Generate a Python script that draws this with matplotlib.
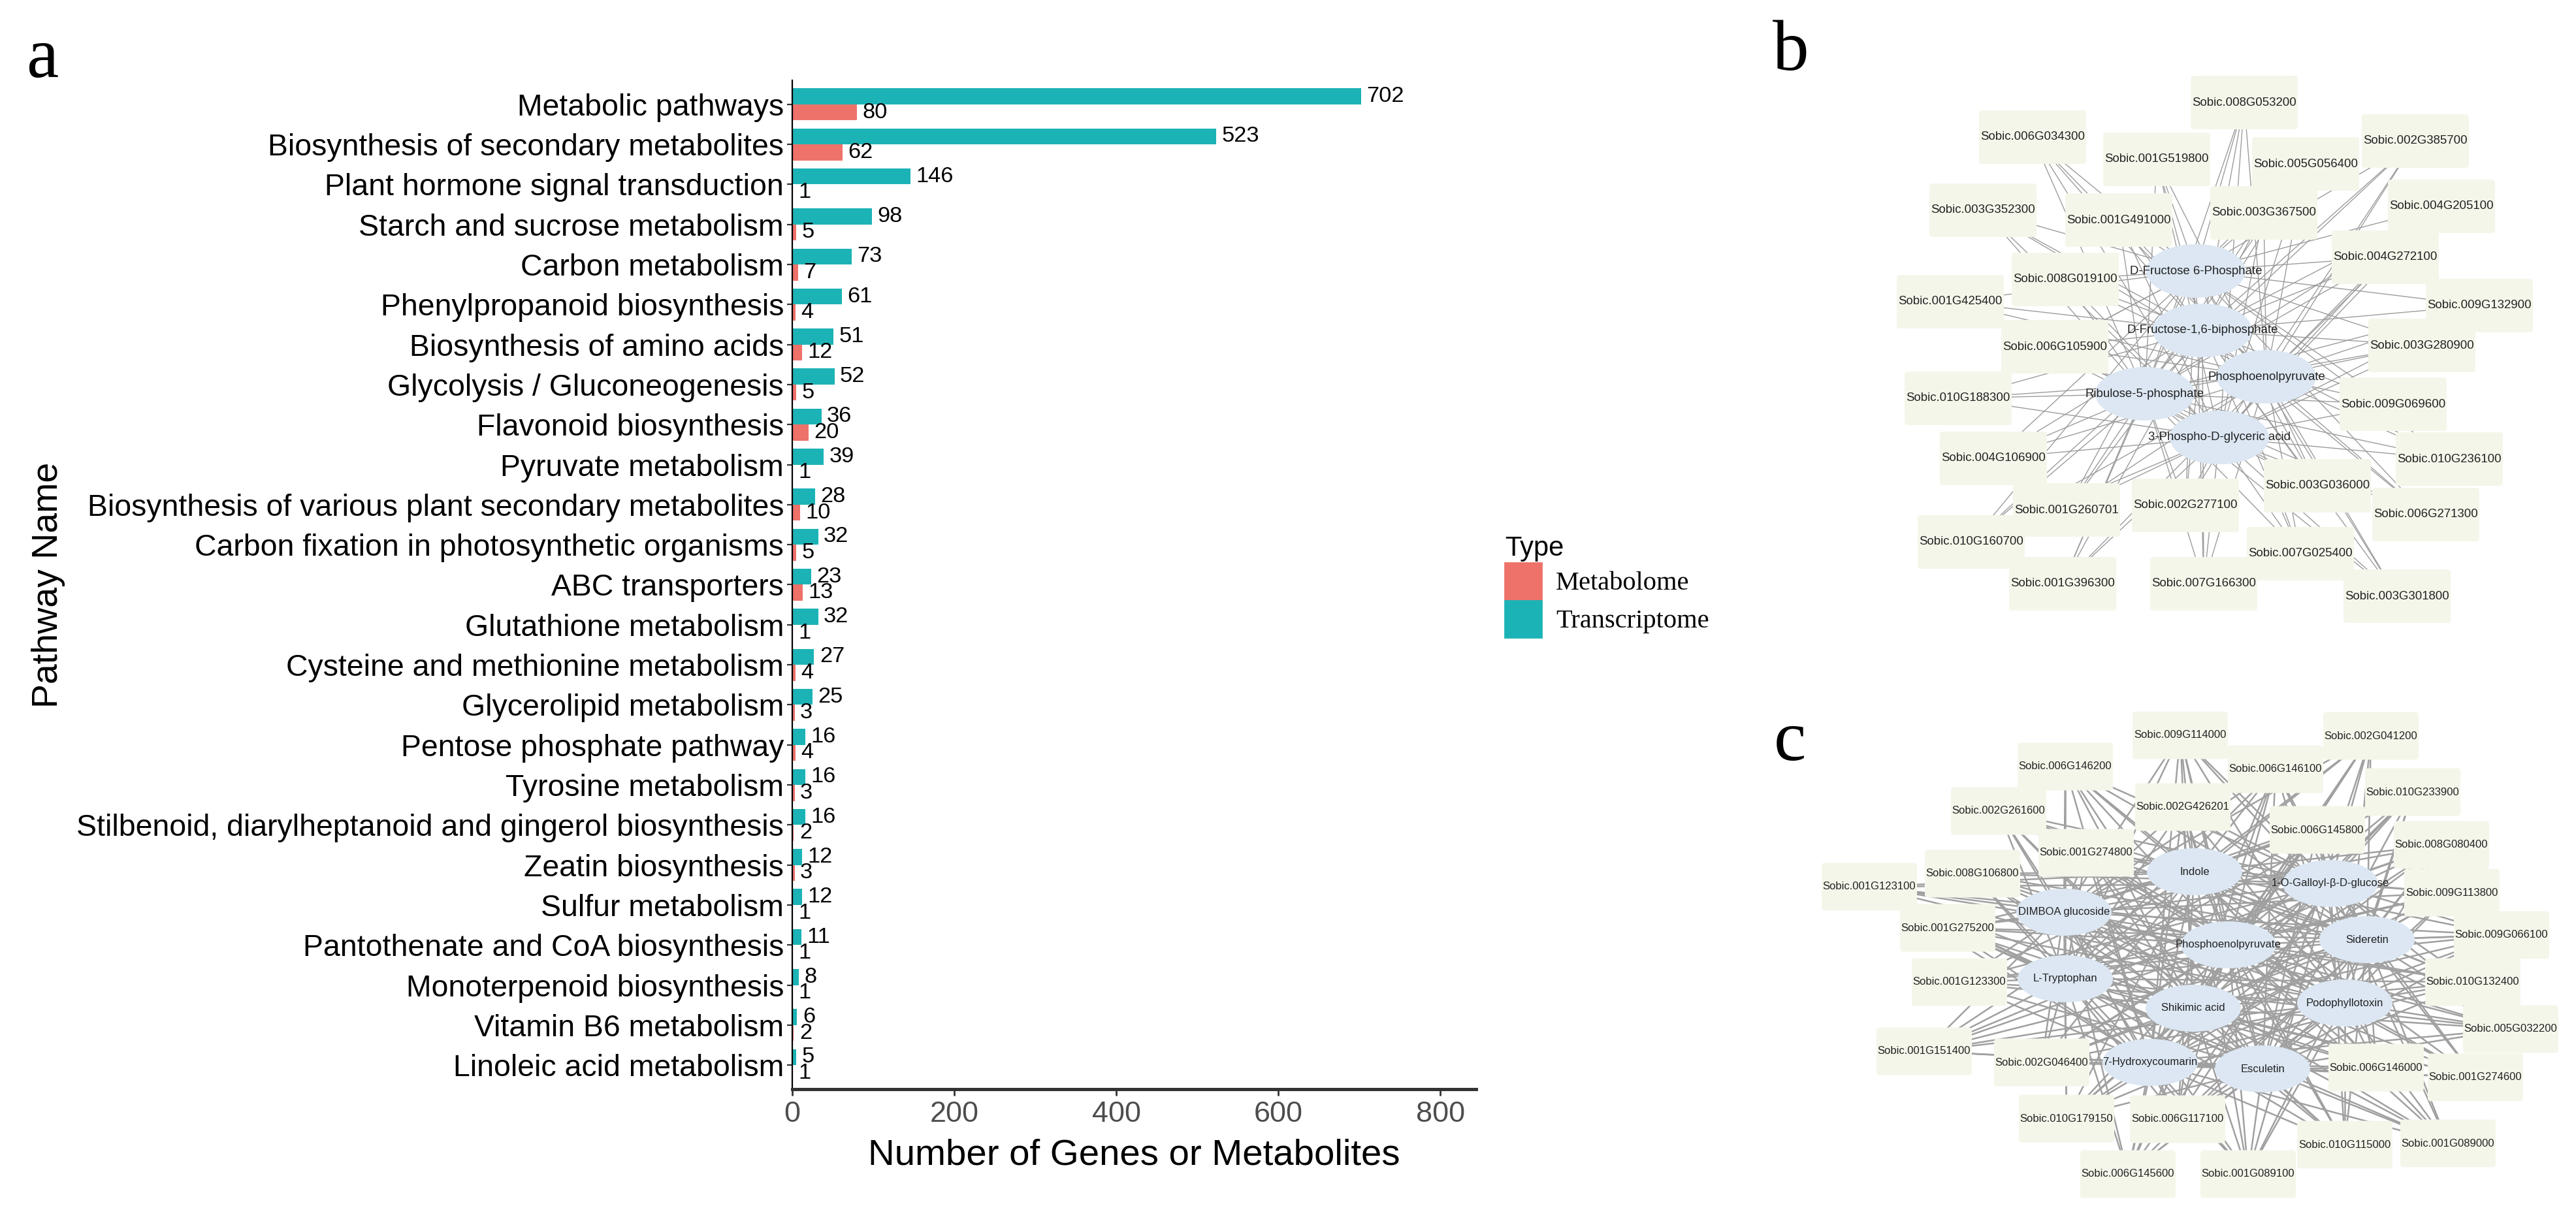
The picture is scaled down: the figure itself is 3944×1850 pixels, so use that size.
import matplotlib
matplotlib.use('Agg')
import matplotlib.pyplot as plt
import numpy as np
from matplotlib.patches import Ellipse, FancyBboxPatch, Patch

# PANEL A DATA
pathways = ['Metabolic pathways', 'Biosynthesis of secondary metabolites',
            'Plant hormone signal transduction', 'Starch and sucrose metabolism',
            'Carbon metabolism', 'Phenylpropanoid biosynthesis',
            'Biosynthesis of amino acids', 'Glycolysis / Gluconeogenesis',
            'Flavonoid biosynthesis', 'Pyruvate metabolism',
            'Biosynthesis of various plant secondary metabolites',
            'Carbon fixation in photosynthetic organisms', 'ABC transporters',
            'Glutathione metabolism', 'Cysteine and methionine metabolism',
            'Glycerolipid metabolism', 'Pentose phosphate pathway',
            'Tyrosine metabolism',
            'Stilbenoid, diarylheptanoid and gingerol biosynthesis',
            'Zeatin biosynthesis', 'Sulfur metabolism',
            'Pantothenate and CoA biosynthesis', 'Monoterpenoid biosynthesis',
            'Vitamin B6 metabolism', 'Linoleic acid metabolism']
transcriptome = [702, 523, 146, 98, 73, 61, 51, 52, 36, 39, 28, 32, 23, 32, 27,
                 25, 16, 16, 16, 12, 12, 11, 8, 6, 5]
metabolome = [80, 62, 1, 5, 7, 4, 12, 5, 20, 1, 10, 5, 13, 1, 4, 3, 4, 3, 2, 3,
              1, 1, 1, 2, 1]
x_ticks = [0, 200, 400, 600, 800]

# PANEL B NETWORK
b_metabolites = ['D-Fructose 6-Phosphate', 'D-Fructose-1,6-biphosphate',
                 'Phosphoenolpyruvate', 'Ribulose-5-phosphate',
                 '3-Phospho-D-glyceric acid']
b_genes = ['Sobic.008G053200', 'Sobic.006G034300', 'Sobic.001G519800',
           'Sobic.005G056400', 'Sobic.002G385700', 'Sobic.003G352300',
           'Sobic.001G491000', 'Sobic.003G367500', 'Sobic.004G205100',
           'Sobic.004G272100', 'Sobic.008G019100', 'Sobic.001G425400',
           'Sobic.009G132900', 'Sobic.006G105900', 'Sobic.003G280900',
           'Sobic.010G188300', 'Sobic.009G069600', 'Sobic.004G106900',
           'Sobic.010G236100', 'Sobic.003G036000', 'Sobic.001G260701',
           'Sobic.002G277100', 'Sobic.006G271300', 'Sobic.010G160700',
           'Sobic.007G025400', 'Sobic.001G396300', 'Sobic.007G166300',
           'Sobic.003G301800']

# PANEL C NETWORK
c_metabolites = ['Indole', '1-O-Galloyl-\u03b2-D-glucose', 'DIMBOA glucoside',
                 'Phosphoenolpyruvate', 'Sideretin', 'L-Tryptophan',
                 'Shikimic acid', 'Podophyllotoxin', '7-Hydroxycoumarin',
                 'Esculetin']
c_genes = ['Sobic.009G114000', 'Sobic.002G041200', 'Sobic.006G146200',
           'Sobic.006G146100', 'Sobic.010G233900', 'Sobic.002G261600',
           'Sobic.002G426201', 'Sobic.006G145800', 'Sobic.008G080400',
           'Sobic.001G274800', 'Sobic.008G106800', 'Sobic.001G123100',
           'Sobic.009G113800', 'Sobic.001G275200', 'Sobic.009G066100',
           'Sobic.001G123300', 'Sobic.010G132400', 'Sobic.005G032200',
           'Sobic.001G151400', 'Sobic.002G046400', 'Sobic.006G146000',
           'Sobic.001G274600', 'Sobic.010G179150', 'Sobic.006G117100',
           'Sobic.010G115000', 'Sobic.001G089000', 'Sobic.006G145600',
           'Sobic.001G089100']

# layout of the networks (pixel positions of node centres)
b_met_pos = [(3362, 415), (3372, 506), (3470, 577), (3284, 603), (3398, 670)]
b_gene_pos = [(3436, 157), (3112, 210), (3302, 244), (3530, 251), (3698, 216),
              (3036, 322), (3244, 337), (3466, 326), (3738, 316), (3652, 394),
              (3162, 428), (2986, 462), (3796, 468), (3146, 531), (3708, 529),
              (2998, 610), (3664, 619), (3052, 702), (3750, 703), (3548, 744),
              (3164, 781), (3346, 774), (3714, 788), (3018, 830), (3522, 848),
              (3158, 894), (3374, 894), (3670, 913)]
c_met_pos = [(3360, 1335), (3568, 1353), (3160, 1397), (3412, 1447),
             (3624, 1439), (3162, 1499), (3358, 1544), (3590, 1536),
             (3292, 1627), (3464, 1637)]
c_gene_pos = [(3338, 1126), (3630, 1127), (3162, 1174), (3484, 1178),
              (3694, 1213), (3060, 1242), (3342, 1236), (3548, 1271),
              (3738, 1294), (3194, 1306), (3020, 1338), (2862, 1358),
              (3754, 1367), (2982, 1421), (3830, 1432), (3000, 1504),
              (3786, 1504), (3844, 1576), (2946, 1610), (3126, 1627),
              (3638, 1635), (3790, 1650), (3164, 1713), (3334, 1714),
              (3590, 1753), (3748, 1751), (3258, 1798), (3442, 1798)]

teal = '#1CB3B6'
red = '#EE726A'
sans = 'Liberation Sans'
serif = 'Liberation Serif'

W, H = 3944, 1850
fig = plt.figure(figsize=(W / 200, H / 200), dpi=200)

# network canvas in pixel units
net = fig.add_axes([0, 0, 1, 1])
net.set_xlim(0, W)
net.set_ylim(H, 0)
net.axis('off')


def draw_network(genes, gene_pos, mets, met_pos, box_w, box_h, ell_w, ell_h,
                 fsize, edge_lw, edge_col):
    for gx, gy in gene_pos:
        for mx, my in met_pos:
            net.plot([gx, mx], [gy, my], color=edge_col, lw=edge_lw, zorder=1)
    for name, (gx, gy) in zip(genes, gene_pos):
        net.add_patch(FancyBboxPatch((gx - box_w / 2, gy - box_h / 2), box_w, box_h,
                                     boxstyle='round,pad=0,rounding_size=5',
                                     fc='#F4F6EA', ec='none', zorder=2))
        net.text(gx, gy, name, ha='center', va='center', fontsize=fsize,
                 family=sans, color='#222222', zorder=4)
    for name, (mx, my) in zip(mets, met_pos):
        net.add_patch(Ellipse((mx, my), ell_w, ell_h, fc='#DCE7F3', ec='none',
                              zorder=3))
        net.text(mx, my, name, ha='center', va='center', fontsize=fsize,
                 family=sans, color='#222222', zorder=4)


draw_network(b_genes, b_gene_pos, b_metabolites, b_met_pos,
             164, 82, 152, 82, 6.7, 0.5, '#9C9C9C')
draw_network(c_genes, c_gene_pos, c_metabolites, c_met_pos,
             146, 73, 146, 72, 6.0, 0.9, '#A0A0A0')

# panel letters
fig.text(65 / W, 1 - 91 / H, 'a', family=serif, fontsize=40, ha='center', va='center')
fig.text(2742 / W, 1 - 80 / H, 'b', family=serif, fontsize=40, ha='center', va='center')
fig.text(2740 / W, 1 - 1137 / H, 'c', family=serif, fontsize=40, ha='center', va='center')

# PANEL A BAR CHART
ax_l, ax_r, ax_t, ax_b = 1213, 2260, 123, 1668
ax = fig.add_axes([ax_l / W, 1 - ax_b / H, (ax_r - ax_l) / W, (ax_b - ax_t) / H])
ax.patch.set_alpha(0)
y_pos = np.arange(len(pathways))
ax.barh(y_pos - 0.2, transcriptome, height=0.4, color=teal)
ax.barh(y_pos + 0.2, metabolome, height=0.4, color=red)
for yy, v in zip(y_pos - 0.2, transcriptome):
    ax.annotate(str(v), (v, yy), xytext=(3, 0), textcoords='offset points',
                va='center', ha='left', fontsize=12.4, family=sans)
for yy, v in zip(y_pos + 0.2, metabolome):
    ax.annotate(str(v), (v, yy), xytext=(3, 0), textcoords='offset points',
                va='center', ha='left', fontsize=12.4, family=sans)

ax.set_ylim(len(pathways) - 0.4, -0.6)
ax.set_xlim(0, 844)
ax.set_yticks(y_pos)
ax.set_yticklabels(pathways, family=sans)
ax.set_xticks(x_ticks)
ax.set_xticklabels([str(t) for t in x_ticks], family=sans)
ax.tick_params(axis='y', length=2.9, width=0.8, pad=1.8, labelsize=16.7,
               color='#333333', labelcolor='black')
ax.tick_params(axis='x', length=3.6, width=1.0, pad=3.0, labelsize=16.2,
               color='#333333', labelcolor='#4D4D4D')
for s in ['top', 'right']:
    ax.spines[s].set_visible(False)
ax.spines['left'].set_linewidth(0.8)
ax.spines['left'].set_color('black')
ax.spines['bottom'].set_linewidth(1.8)
ax.spines['bottom'].set_color('#333333')

ax.set_xlabel('Number of Genes or Metabolites', family=sans, fontsize=20.3, va='center')
ax.xaxis.set_label_coords(0.5, -(1770 - ax_b) / (ax_b - ax_t))
ax.set_ylabel('Pathway Name', family=sans, fontsize=20, va='center')
ax.yaxis.set_label_coords(-(ax_l - 74) / (ax_r - ax_l), 0.5)

handles = [Patch(color=red, label='Metabolome'), Patch(color=teal, label='Transcriptome')]
fig.legend(handles=handles, title='Type', loc='upper left',
           bbox_to_anchor=(2304 / W, 1 - 820 / H), frameon=False,
           prop={'family': serif, 'size': 14.6},
           title_fontproperties={'family': sans, 'size': 15},
           handlelength=1.38, handleheight=1.75, handletextpad=0.55,
           labelspacing=0.05, borderpad=0, borderaxespad=0, alignment='left')

fig.savefig('out.png', dpi=200, facecolor='white')
